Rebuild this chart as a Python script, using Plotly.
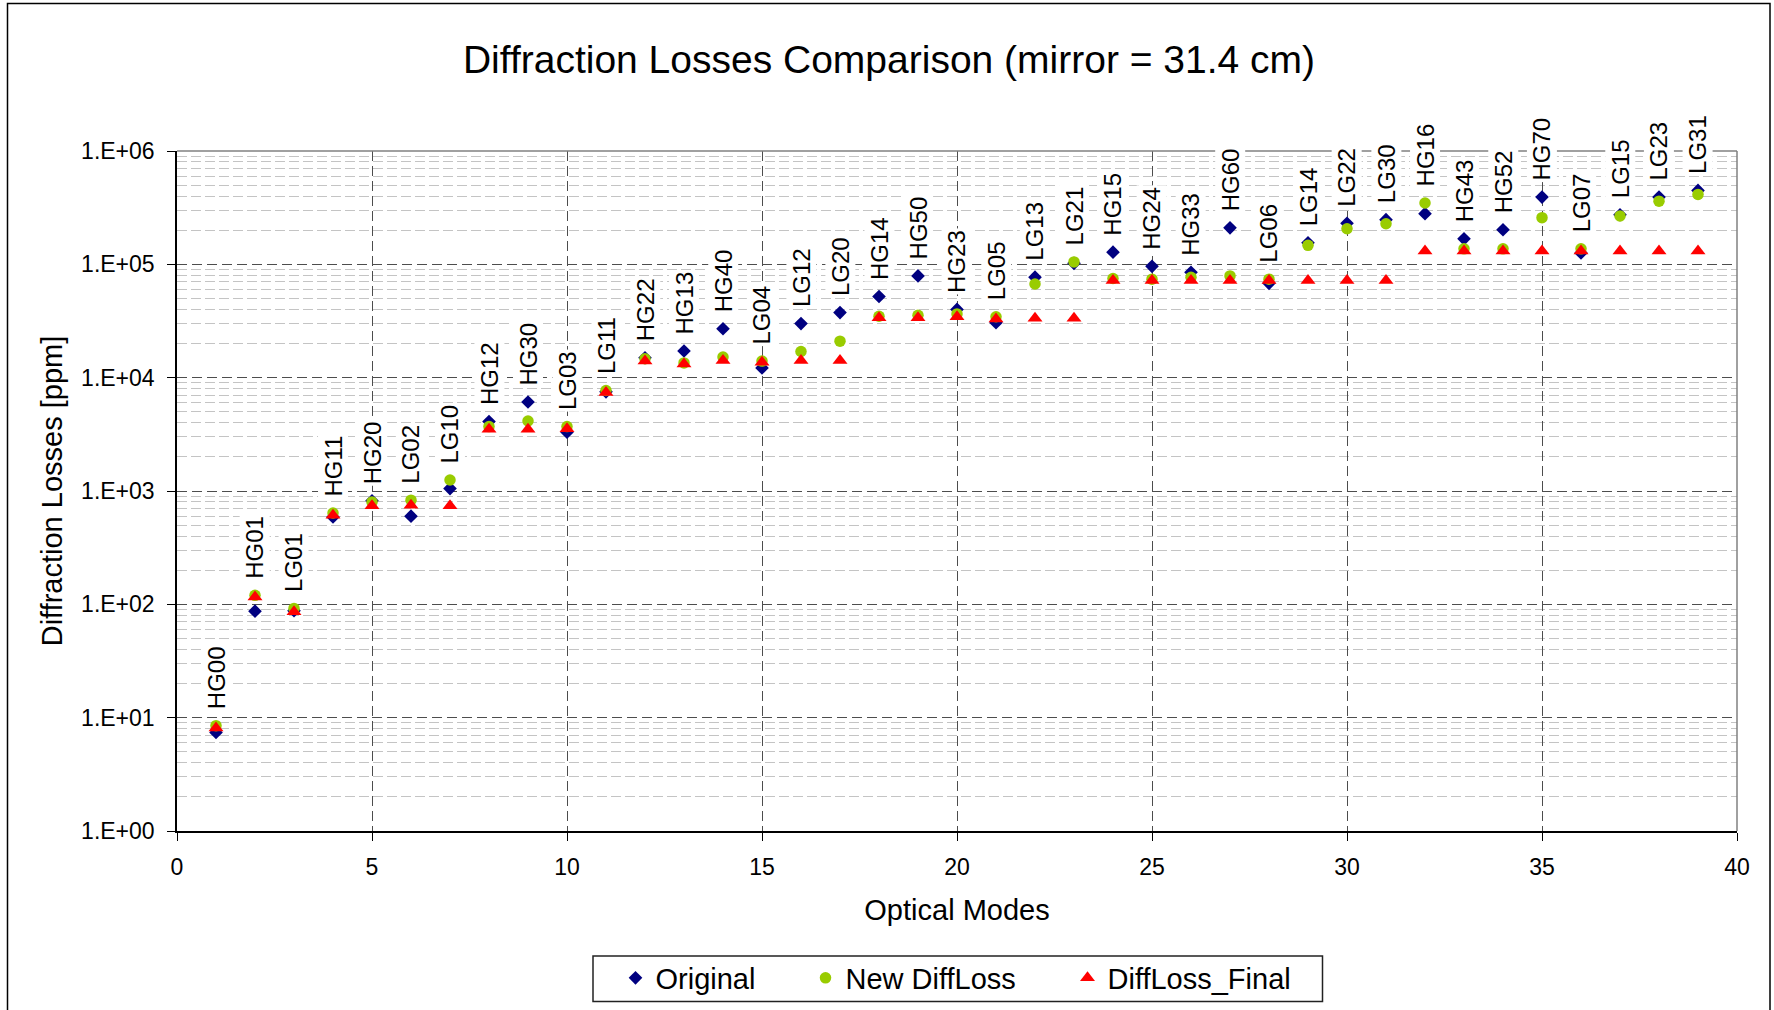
import math
import plotly.graph_objects as go

# Optical mode names, in plotting order (mode index 1..39)
modes = [
    "HG00", "HG01", "LG01", "HG11", "HG20", "LG02", "LG10", "HG12", "HG30", "LG03",
    "LG11", "HG22", "HG13", "HG40", "LG04", "LG12", "LG20", "HG14", "HG50", "HG23",
    "LG05", "LG13", "LG21", "HG15", "HG24", "HG33", "HG60", "LG06", "LG14", "LG22",
    "LG30", "HG16", "HG43", "HG52", "HG70", "LG07", "LG15", "LG23", "LG31",
]
mode_index = list(range(1, len(modes) + 1))

# Diffraction losses in ppm
original = [
    7.4, 87, 88, 590, 820, 600, 1050, 4100, 6100, 3300,
    7500, 15000, 17200, 27000, 12200, 30000, 37500, 52000, 79000, 40000,
    30500, 77000, 102000, 128000, 96000, 85000, 210000, 68000, 155000, 230000,
    248000, 280000, 168000, 202000, 392000, 126000, 274000, 392000, 449000,
]
new_diffloss = [
    8.5, 120, 92, 640, 800, 830, 1250, 3700, 4150, 3700,
    7700, 14700, 13500, 15200, 14000, 17000, 21000, 34800, 35500, 36500,
    34500, 67000, 105000, 75000, 74000, 77000, 79000, 74000, 147000, 206000,
    228000, 348000, 137000, 137000, 258000, 137000, 267000, 361000, 414000,
]
diffloss_final = [
    8.1, 116, 86, 610, 740, 750, 740, 3500, 3500, 3550,
    7400, 14000, 13200, 14200, 13700, 14200, 14200, 33800, 33800, 34500,
    33000, 33500, 33500, 72000, 72000, 72000, 72000, 72000, 72000, 72000,
    72000, 131000, 131000, 131000, 131000, 131000, 131000, 131000, 131000,
]

x_ticks = [0, 5, 10, 15, 20, 25, 30, 35, 40]
y_ticks = [1e0, 1e1, 1e2, 1e3, 1e4, 1e5, 1e6]
y_tick_text = ["1.E+00", "1.E+01", "1.E+02", "1.E+03", "1.E+04", "1.E+05", "1.E+06"]
y_minor = [m * 10 ** e for e in range(0, 6) for m in range(2, 10)]

FONT = "Liberation Sans, Arial, sans-serif"
W, H = 1774, 1010
ML, MR, MT, MB = 177, 37, 151, 179
PW, PH = W - ML - MR, H - MT - MB


def px_x(px):
    return (px - ML) / PW


def px_y(py):
    return (H - MB - py) / PH


fig = go.Figure()

fig.add_trace(go.Scatter(
    x=mode_index, y=original, mode="markers", name="Original",
    marker=dict(symbol="diamond", size=10.5, color="#000080", line=dict(width=0)),
    legend="legend", showlegend=True,
))
fig.add_trace(go.Scatter(
    x=mode_index, y=new_diffloss, mode="markers", name="New DiffLoss",
    marker=dict(symbol="circle", size=11.5, color="#99CC00", line=dict(width=0)),
    legend="legend2", showlegend=True,
))
fig.add_trace(go.Scatter(
    x=mode_index, y=diffloss_final, mode="markers", name="DiffLoss_Final",
    marker=dict(symbol="triangle-up", size=13, color="#FF0000", line=dict(width=0)),
    legend="legend3", showlegend=True,
))

# Vertical mode labels above the highest marker of each mode
for k, name, a, b, c in zip(mode_index, modes, original, new_diffloss, diffloss_final):
    fig.add_annotation(
        x=k, y=math.log10(max(a, b, c)), xref="x", yref="y",
        text=name, textangle=-90, showarrow=False,
        xanchor="center", yanchor="bottom", yshift=14,
        bgcolor="white", borderpad=1,
        font=dict(family=FONT, size=24, color="black"),
    )

# Plot-area top/right border, outer chart frame and legend frame
fig.add_shape(type="line", xref="paper", yref="paper", x0=0, x1=1, y0=1, y1=1,
              line=dict(color="#808080", width=1.5), layer="above")
fig.add_shape(type="line", xref="paper", yref="paper", x0=1, x1=1, y0=0, y1=1,
              line=dict(color="#808080", width=1.5), layer="above")
fig.add_shape(type="rect", xref="paper", yref="paper",
              x0=px_x(7.5), x1=px_x(1770), y0=px_y(1016), y1=px_y(3.5),
              line=dict(color="black", width=1.5), layer="below")
fig.add_shape(type="rect", xref="paper", yref="paper",
              x0=px_x(593), x1=px_x(1322.5), y0=px_y(1001.5), y1=px_y(956),
              line=dict(color="#222222", width=1.5), layer="above")

legend_common = dict(
    orientation="h", xanchor="left", yanchor="middle", y=px_y(978),
    bgcolor="rgba(0,0,0,0)", borderwidth=0,
    font=dict(family=FONT, size=29, color="black"),
)

fig.update_layout(
    width=W, height=H,
    margin=dict(l=ML, r=MR, t=MT, b=MB, autoexpand=False),
    paper_bgcolor="white", plot_bgcolor="white",
    font=dict(family=FONT, color="black"),
    showlegend=True,
    title=dict(
        text="Diffraction Losses Comparison (mirror = 31.4 cm)",
        xref="container", yref="container", x=889 / W, y=1 - 59 / H,
        xanchor="center", yanchor="middle",
        font=dict(family=FONT, size=39, color="black"),
    ),
    legend=dict(legend_common, x=px_x(615.5)),
    legend2=dict(legend_common, x=px_x(805.5)),
    legend3=dict(legend_common, x=px_x(1067.5)),
    xaxis=dict(
        range=[0, 40], tickmode="array", tickvals=x_ticks,
        showgrid=True, gridcolor="#4d4d4d", griddash="10px,5px", gridwidth=1,
        zeroline=False, showline=True, linecolor="black", linewidth=1.5,
        ticks="outside", ticklen=8, tickcolor="black", tickwidth=1,
        ticklabelstandoff=7,
        tickfont=dict(family=FONT, size=23, color="black"),
        title=dict(text="Optical Modes", standoff=20,
                   font=dict(family=FONT, size=29, color="black")),
    ),
    yaxis=dict(
        type="log", range=[0, 6], tickmode="array",
        tickvals=y_ticks, ticktext=y_tick_text,
        showgrid=True, gridcolor="#4d4d4d", griddash="10px,5px", gridwidth=1,
        minor=dict(tickmode="array", tickvals=y_minor, showgrid=True,
                   gridcolor="#c4c4c4", griddash="10px,4px", gridwidth=1, ticks=""),
        zeroline=False, showline=True, linecolor="black", linewidth=1.5,
        ticks="outside", ticklen=8, tickcolor="black", tickwidth=1,
        ticklabelstandoff=8,
        tickfont=dict(family=FONT, size=23, color="black"),
        title=dict(text="Diffraction Losses [ppm]", standoff=10,
                   font=dict(family=FONT, size=29, color="black")),
    ),
)

fig.write_html("out.html")
